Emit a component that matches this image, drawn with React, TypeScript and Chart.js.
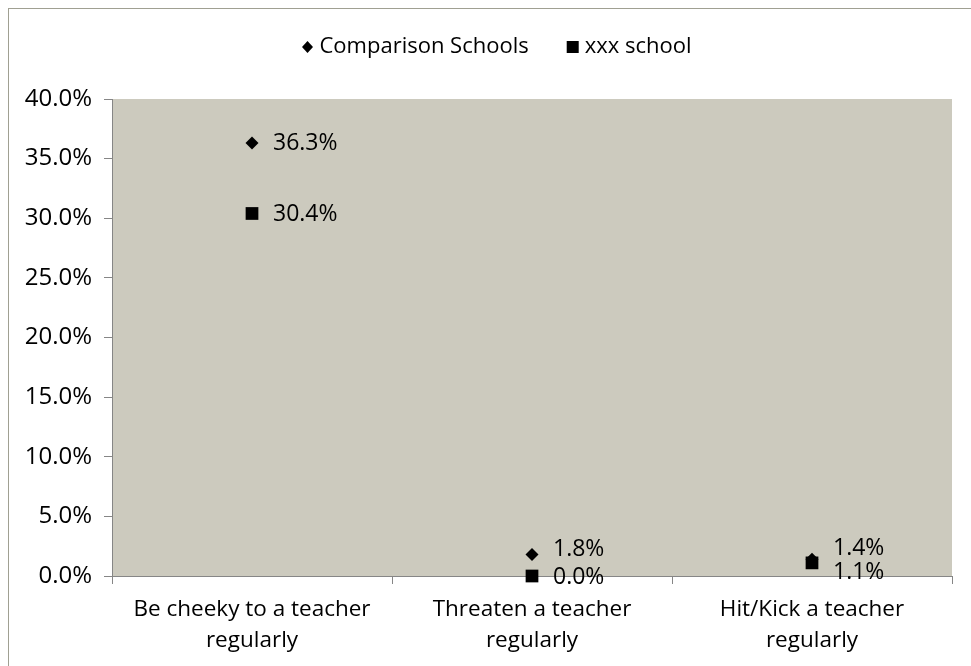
import React, { useEffect, useRef } from "react";
import { Chart, registerables } from "chart.js";

Chart.register(...registerables);

const categories: string[][] = [
  ["Be cheeky to a teacher", "regularly"],
  ["Threaten a teacher", "regularly"],
  ["Hit/Kick a teacher", "regularly"],
];
const comparisonSchools: number[] = [36.3, 1.8, 1.4];
const xxxSchool: number[] = [30.4, 0.0, 1.1];
const seriesNames: string[] = ["Comparison Schools", "xxx school"];
const yTicks = { min: 0, max: 40, step: 5 };

// pixel nudges for data labels (Excel collision avoidance), style only
const labelNudge: number[][] = [
  [0, -5, -11],
  [1, 1, 10],
];

const FONT = "'Open Sans', 'Noto Sans', sans-serif";
const FS_LEGEND = 22;
const FS_X = 22.5;
const FS_Y = 24;
const FS_LABEL = 23;

const framePlugin = {
  id: "frame",
  beforeDraw(chart: any) {
    const ctx = chart.ctx;
    ctx.save();
    ctx.fillStyle = "#ffffff";
    ctx.fillRect(0, 0, chart.width, chart.height);
    ctx.strokeStyle = "#a0a092";
    ctx.lineWidth = 1;
    ctx.strokeRect(8.5, 8.5, 2000, 2000);
    const a = chart.chartArea;
    ctx.fillStyle = "#cccabe";
    ctx.fillRect(a.left, a.top, a.right - a.left, a.bottom - a.top);
    ctx.restore();
  },
};

const legendPlugin = {
  id: "customLegend",
  afterDraw(chart: any) {
    const ctx = chart.ctx;
    ctx.save();
    ctx.font = `${FS_LEGEND}px ${FONT}`;
    ctx.fillStyle = "#000";
    ctx.textBaseline = "middle";
    ctx.textAlign = "left";
    const y = 47;
    const w1 = ctx.measureText(seriesNames[0]).width;
    const w2 = ctx.measureText(seriesNames[1]).width;
    const gapMarker = 12;
    const gapItems = 44;
    const total = gapMarker + w1 + gapItems + gapMarker + w2;
    let x = (chart.width - total) / 2 + 14;
    // diamond
    ctx.beginPath();
    ctx.moveTo(x, y - 6);
    ctx.lineTo(x + 5.5, y);
    ctx.lineTo(x, y + 6);
    ctx.lineTo(x - 5.5, y);
    ctx.closePath();
    ctx.fill();
    ctx.fillText(seriesNames[0], x + gapMarker, y);
    x = x + gapMarker + w1 + gapItems;
    ctx.fillRect(x - 6, y - 6, 12, 12);
    ctx.fillText(seriesNames[1], x + gapMarker, y);
    ctx.restore();
  },
};

const dataLabelPlugin = {
  id: "dataLabels",
  afterDatasetsDraw(chart: any) {
    const ctx = chart.ctx;
    ctx.save();
    ctx.font = `${FS_LABEL}px ${FONT}`;
    ctx.fillStyle = "#000";
    ctx.textBaseline = "middle";
    ctx.textAlign = "left";
    chart.data.datasets.forEach((ds: any, di: number) => {
      const meta = chart.getDatasetMeta(di);
      meta.data.forEach((pt: any, i: number) => {
        const v = ds.data[i] as number;
        ctx.fillText(`${v.toFixed(1)}%`, pt.x + 21, pt.y + labelNudge[di][i]);
      });
    });
    ctx.restore();
  },
};

export default function App() {
  const ref = useRef<HTMLCanvasElement>(null);
  useEffect(() => {
    if (!ref.current) return;
    const chart = new Chart(ref.current, {
      type: "line",
      data: {
        labels: categories,
        datasets: [
          {
            label: seriesNames[0],
            data: comparisonSchools,
            showLine: false,
            clip: false,
            pointStyle: "rectRot",
            pointRadius: 6.5,
            pointHoverRadius: 6.5,
            backgroundColor: "#000",
            borderColor: "#000",
            pointBorderWidth: 0,
          },
          {
            label: seriesNames[1],
            data: xxxSchool,
            showLine: false,
            clip: false,
            pointStyle: "rect",
            pointRadius: 9,
            pointHoverRadius: 9,
            backgroundColor: "#000",
            borderColor: "#000",
            pointBorderWidth: 0,
          },
        ],
      },
      options: {
        animation: false,
        responsive: false,
        devicePixelRatio: 1,
        layout: { padding: { top: 99, right: 19, left: 0, bottom: 0 } },
        plugins: {
          legend: { display: false },
          tooltip: { enabled: false },
        },
        scales: {
          x: {
            type: "category",
            offset: true,
            grid: {
              offset: true,
              drawOnChartArea: false,
              drawTicks: true,
              tickLength: 8,
              color: "#868686",
            },
            border: { color: "#868686", width: 1 },
            ticks: {
              font: { family: FONT, size: FS_X, lineHeight: 1.38 },
              color: "#000",
              maxRotation: 0,
              autoSkip: false,
              padding: 10,
            },
            afterFit(scale: any) {
              scale.height = 90;
            },
          },
          y: {
            min: yTicks.min,
            max: yTicks.max,
            grid: {
              drawOnChartArea: false,
              drawTicks: true,
              tickLength: 8,
              color: "#868686",
            },
            border: { color: "#868686", width: 1 },
            ticks: {
              stepSize: yTicks.step,
              font: { family: FONT, size: FS_Y },
              color: "#000",
              padding: 12,
              callback: (v: any) => `${Number(v).toFixed(1)}%`,
            },
            afterFit(scale: any) {
              scale.width = 112;
            },
          },
        },
      },
      plugins: [framePlugin, legendPlugin, dataLabelPlugin],
    });
    return () => chart.destroy();
  }, []);
  return (
    <div style={{ position: "absolute", left: 0, top: 0, width: 971, height: 666 }}>
      <canvas ref={ref} width={971} height={666} style={{ width: 971, height: 666, display: "block" }} />
    </div>
  );
}
